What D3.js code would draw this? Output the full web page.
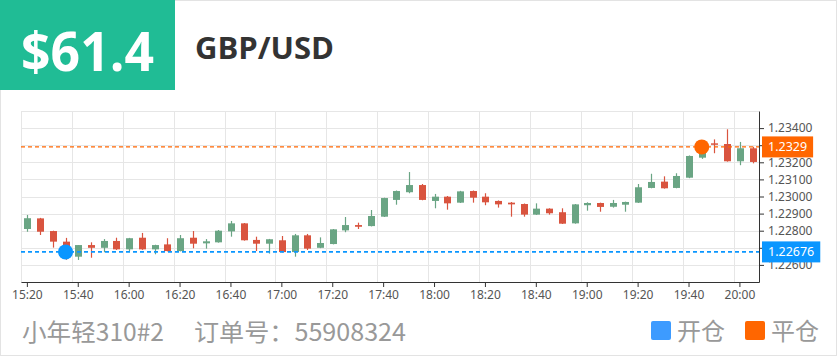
<!DOCTYPE html>
<html>
<head>
<meta charset="utf-8">
<script src="https://cdn.jsdelivr.net/npm/d3@7/dist/d3.min.js"></script>
<style>
  html, body { margin: 0; padding: 0; background: #fff; }
  svg { display: block; font-family: "Noto Sans", "Open Sans", "Noto Sans CJK SC", sans-serif; }
</style>
</head>
<body>
<svg id="chart" width="840" height="357"></svg>
<script>
// ---- data ----
const times = ["15:20","15:25","15:30","15:35","15:40","15:45","15:50","15:55",
  "16:00","16:05","16:10","16:15","16:20","16:25","16:30","16:35",
  "16:40","16:45","16:50","16:55","17:00","17:05","17:10","17:15",
  "17:20","17:25","17:30","17:35","17:40","17:45","17:50","17:55",
  "18:00","18:05","18:10","18:15","18:20","18:25","18:30","18:35",
  "18:40","18:45","18:50","18:55","19:00","19:05","19:10","19:15",
  "19:20","19:25","19:30","19:35","19:40","19:45","19:50","19:55",
  "20:00","20:05"];
const openV = [1.22810,1.22872,1.22798,1.22736,1.22648,1.22716,1.22700,1.22740,
  1.22691,1.22759,1.22691,1.22720,1.22681,1.22759,1.22726,1.22732,
  1.22796,1.22843,1.22746,1.22724,1.22744,1.22675,1.22773,1.22700,
  1.22722,1.22802,1.22833,1.22827,1.22882,1.22980,1.23025,1.23067,
  1.22974,1.22999,1.22964,1.23032,1.22999,1.22974,1.22964,1.22956,
  1.22894,1.22929,1.22908,1.22843,1.22949,1.22962,1.22940,1.22952,
  1.22964,1.23050,1.23087,1.23050,1.23110,1.23227,1.23311,1.23307,
  1.23206,1.23282];
const closeV = [1.22873,1.22794,1.22736,1.22700,1.22716,1.22700,1.22740,1.22691,
  1.22756,1.22691,1.22716,1.22681,1.22756,1.22724,1.22738,1.22800,
  1.22843,1.22744,1.22724,1.22750,1.22675,1.22773,1.22695,1.22728,
  1.22808,1.22833,1.22823,1.22886,1.22991,1.23032,1.23067,1.22980,
  1.22999,1.22960,1.23030,1.22993,1.22966,1.22954,1.22954,1.22894,
  1.22929,1.22902,1.22841,1.22954,1.22962,1.22939,1.22962,1.22968,
  1.23054,1.23085,1.23048,1.23120,1.23237,1.23270,1.23307,1.23206,
  1.23282,1.23202];
const lowV = [1.22794,1.22775,1.22701,1.22630,1.22629,1.22642,1.22674,1.22687,
  1.22681,1.22688,1.22662,1.22679,1.22679,1.22697,1.22695,1.22730,
  1.22765,1.22742,1.22681,1.22666,1.22673,1.22648,1.22687,1.22698,
  1.22720,1.22791,1.22810,1.22825,1.22880,1.22952,1.23019,1.22978,
  1.22931,1.22923,1.22962,1.22964,1.22949,1.22935,1.22882,1.22882,
  1.22892,1.22894,1.22839,1.22841,1.22917,1.22911,1.22935,1.22911,
  1.22962,1.23048,1.23046,1.23048,1.23107,1.23220,1.23253,1.23204,
  1.23183,1.23194];
const highV = [1.22892,1.22875,1.22800,1.22758,1.22716,1.22732,1.22751,1.22759,
  1.22758,1.22787,1.22718,1.22756,1.22775,1.22798,1.22751,1.22804,
  1.22857,1.22845,1.22765,1.22752,1.22769,1.22781,1.22781,1.22761,
  1.22810,1.22880,1.22847,1.22921,1.22993,1.23035,1.23143,1.23073,
  1.23015,1.23003,1.23033,1.23035,1.23019,1.22977,1.22968,1.22959,
  1.22960,1.22931,1.22931,1.22956,1.22966,1.22964,1.22980,1.22970,
  1.23073,1.23133,1.23118,1.23136,1.23240,1.23285,1.23334,1.23393,
  1.23319,1.23291];
const yTicks = [1.226,1.227,1.228,1.229,1.230,1.231,1.232,1.233,1.234];
const yGrid = [1.225,1.226,1.227,1.228,1.229,1.230,1.231,1.232,1.233,1.234,1.235];
const xLabelTimes = ["15:20","15:40","16:00","16:20","16:40","17:00","17:20","17:40",
  "18:00","18:20","18:40","19:00","19:20","19:40","20:00"];
const openTrade = { time: "15:35", price: 1.22676, label: "1.22676" };
const closeTrade = { time: "19:45", price: 1.2329, label: "1.2329" };
const headerAmount = "$61.4";
const symbol = "GBP/USD";
const footerUser = "小年轻310#2";
const footerOrder = "订单号：55908324";
const legendItems = ["开仓", "平仓"];

// ---- layout ----
const svg = d3.select("#chart");
const plot = { left: 21, right: 759, top: 111, bottom: 282 };
const upColor = "#6aa584", downColor = "#d9543f";
const openColor = "#0a96ff", closeColor = "#ff6600";

// card border
svg.append("rect").attr("x", 0.5).attr("y", 0.5).attr("width", 836).attr("height", 355)
  .attr("fill", "#fff").attr("stroke", "#e3e3e3");

// header
svg.append("rect").attr("x", 0).attr("y", 0).attr("width", 175).attr("height", 90).attr("fill", "#20bc95");
svg.append("text").attr("x", 21).attr("y", 71).attr("fill", "#fff")
  .attr("font-family", "'Open Sans', sans-serif").attr("font-weight", 700).attr("font-size", 54)
  .attr("textLength", 133).attr("lengthAdjust", "spacingAndGlyphs").text(headerAmount);
svg.append("text").attr("x", 195).attr("y", 59).attr("fill", "#333")
  .attr("font-family", "'Open Sans', sans-serif").attr("font-weight", 700).attr("font-size", 31)
  .text(symbol);

// scales
const x = d3.scaleBand().domain(times).range([plot.left, plot.right]).padding(0);
const y = d3.scaleLinear().domain([1.225, 1.235]).range([plot.bottom, plot.top]);
const bw = x.bandwidth();
const cx = t => x(t) + bw / 2;

// grid
const g = svg.append("g");
g.selectAll(".hg").data(yGrid).join("line")
  .attr("x1", plot.left).attr("x2", plot.right)
  .attr("y1", d => Math.round(y(d)) + 0.5).attr("y2", d => Math.round(y(d)) + 0.5)
  .attr("stroke", "#e6e6e6");
g.selectAll(".vg").data(times.filter((t, i) => i % 4 === 0)).join("line")
  .attr("x1", d => Math.round(x(d)) + 0.5).attr("x2", d => Math.round(x(d)) + 0.5)
  .attr("y1", plot.top).attr("y2", plot.bottom)
  .attr("stroke", "#e6e6e6");

// candles
const candles = times.map((t, i) => ({ t, o: openV[i], c: closeV[i], l: lowV[i], h: highV[i] }));
const cg = svg.append("g");
const bodyW = 7;
cg.selectAll(".wick").data(candles).join("line")
  .attr("x1", d => Math.round(cx(d.t)) + 0.5).attr("x2", d => Math.round(cx(d.t)) + 0.5)
  .attr("y1", d => y(d.h)).attr("y2", d => y(d.l))
  .attr("stroke", d => d.c >= d.o ? upColor : downColor).attr("stroke-width", 1.2);
cg.selectAll(".body").data(candles).join("rect")
  .attr("x", d => Math.round(cx(d.t)) + 0.5 - bodyW / 2)
  .attr("y", d => y(Math.max(d.o, d.c)))
  .attr("width", bodyW)
  .attr("height", d => Math.max(1.5, Math.abs(y(d.o) - y(d.c))))
  .attr("fill", d => d.c >= d.o ? upColor : downColor);

// dashed trade lines
[[openTrade, openColor, 1.6], [closeTrade, closeColor, 1.3]].forEach(([tr, col, w]) => {
  svg.append("line").attr("x1", plot.left).attr("x2", plot.right)
    .attr("y1", y(tr.price)).attr("y2", y(tr.price))
    .attr("stroke", col).attr("stroke-width", w).attr("stroke-dasharray", "4,3");
});

// axes
const xAxis = d3.axisBottom(x).tickValues(xLabelTimes).tickSize(5).tickSizeOuter(0);
const xa = svg.append("g").attr("transform", `translate(0,${plot.bottom})`).call(xAxis);
xa.select(".domain").attr("stroke", "#333");
xa.selectAll(".tick line").attr("stroke", "#333");
xa.selectAll(".tick text").attr("fill", "#555").attr("font-size", 12)
  .attr("font-family", "'Noto Sans', sans-serif").attr("dy", "0.78em").attr("y", 8);

const yAxis = d3.axisRight(y).tickValues(yTicks).tickFormat(d3.format(".5f")).tickSize(5).tickSizeOuter(0);
const ya = svg.append("g").attr("transform", `translate(${plot.right},0)`).call(yAxis);
ya.select(".domain").attr("stroke", "#333");
ya.selectAll(".tick line").attr("stroke", "#333");
ya.selectAll(".tick text").attr("fill", "#555").attr("font-size", 12)
  .attr("font-family", "'Noto Sans', sans-serif").attr("x", 9);
// tick labels fully hidden behind the price tags are not drawn (as in the reference)
ya.selectAll(".tick text")
  .filter(d => [openTrade, closeTrade].some(tr => Math.abs(y(d) - y(tr.price)) < 6))
  .remove();

// markers
svg.append("circle").attr("cx", cx(openTrade.time)).attr("cy", y(openTrade.price)).attr("r", 7.5).attr("fill", openColor);
svg.append("circle").attr("cx", cx(closeTrade.time)).attr("cy", y(closeTrade.price)).attr("r", 7.5).attr("fill", closeColor);

// price labels on right axis
[[closeTrade, closeColor], [openTrade, "#0a96ff"]].forEach(([tr, col]) => {
  const lg = svg.append("g");
  const rect = lg.append("rect").attr("fill", col);
  const txt = lg.append("text").attr("x", plot.right + 9).attr("y", y(tr.price))
    .attr("dy", "0.36em").attr("fill", "#fff").attr("font-size", 12.5)
    .attr("font-family", "'Noto Sans', sans-serif").text(tr.label);
  const w = txt.node().getComputedTextLength();
  rect.attr("x", plot.right + 3).attr("y", y(tr.price) - 10.5).attr("width", w + 12).attr("height", 21);
});

// footer
const fg = svg.append("g").attr("font-family", "'Noto Sans CJK SC', 'Noto Sans', sans-serif").attr("fill", "#999");
fg.append("text").attr("x", 22).attr("y", 341).attr("font-size", 24)
  .attr("textLength", 142).attr("lengthAdjust", "spacingAndGlyphs").text(footerUser);
fg.append("text").attr("x", 194).attr("y", 341).attr("font-size", 24)
  .attr("textLength", 212).attr("lengthAdjust", "spacingAndGlyphs").text(footerOrder);

const legendX = [651, 745];
const legendColors = ["#3d9bff", "#ff6600"];
legendItems.forEach((name, i) => {
  fg.append("rect").attr("x", legendX[i]).attr("y", 321).attr("width", 20).attr("height", 19)
    .attr("rx", 2).attr("fill", legendColors[i]);
  fg.append("text").attr("x", legendX[i] + 26).attr("y", 340).attr("font-size", 24)
    .attr("textLength", 48).attr("lengthAdjust", "spacingAndGlyphs").text(name);
});
</script>
</body>
</html>
